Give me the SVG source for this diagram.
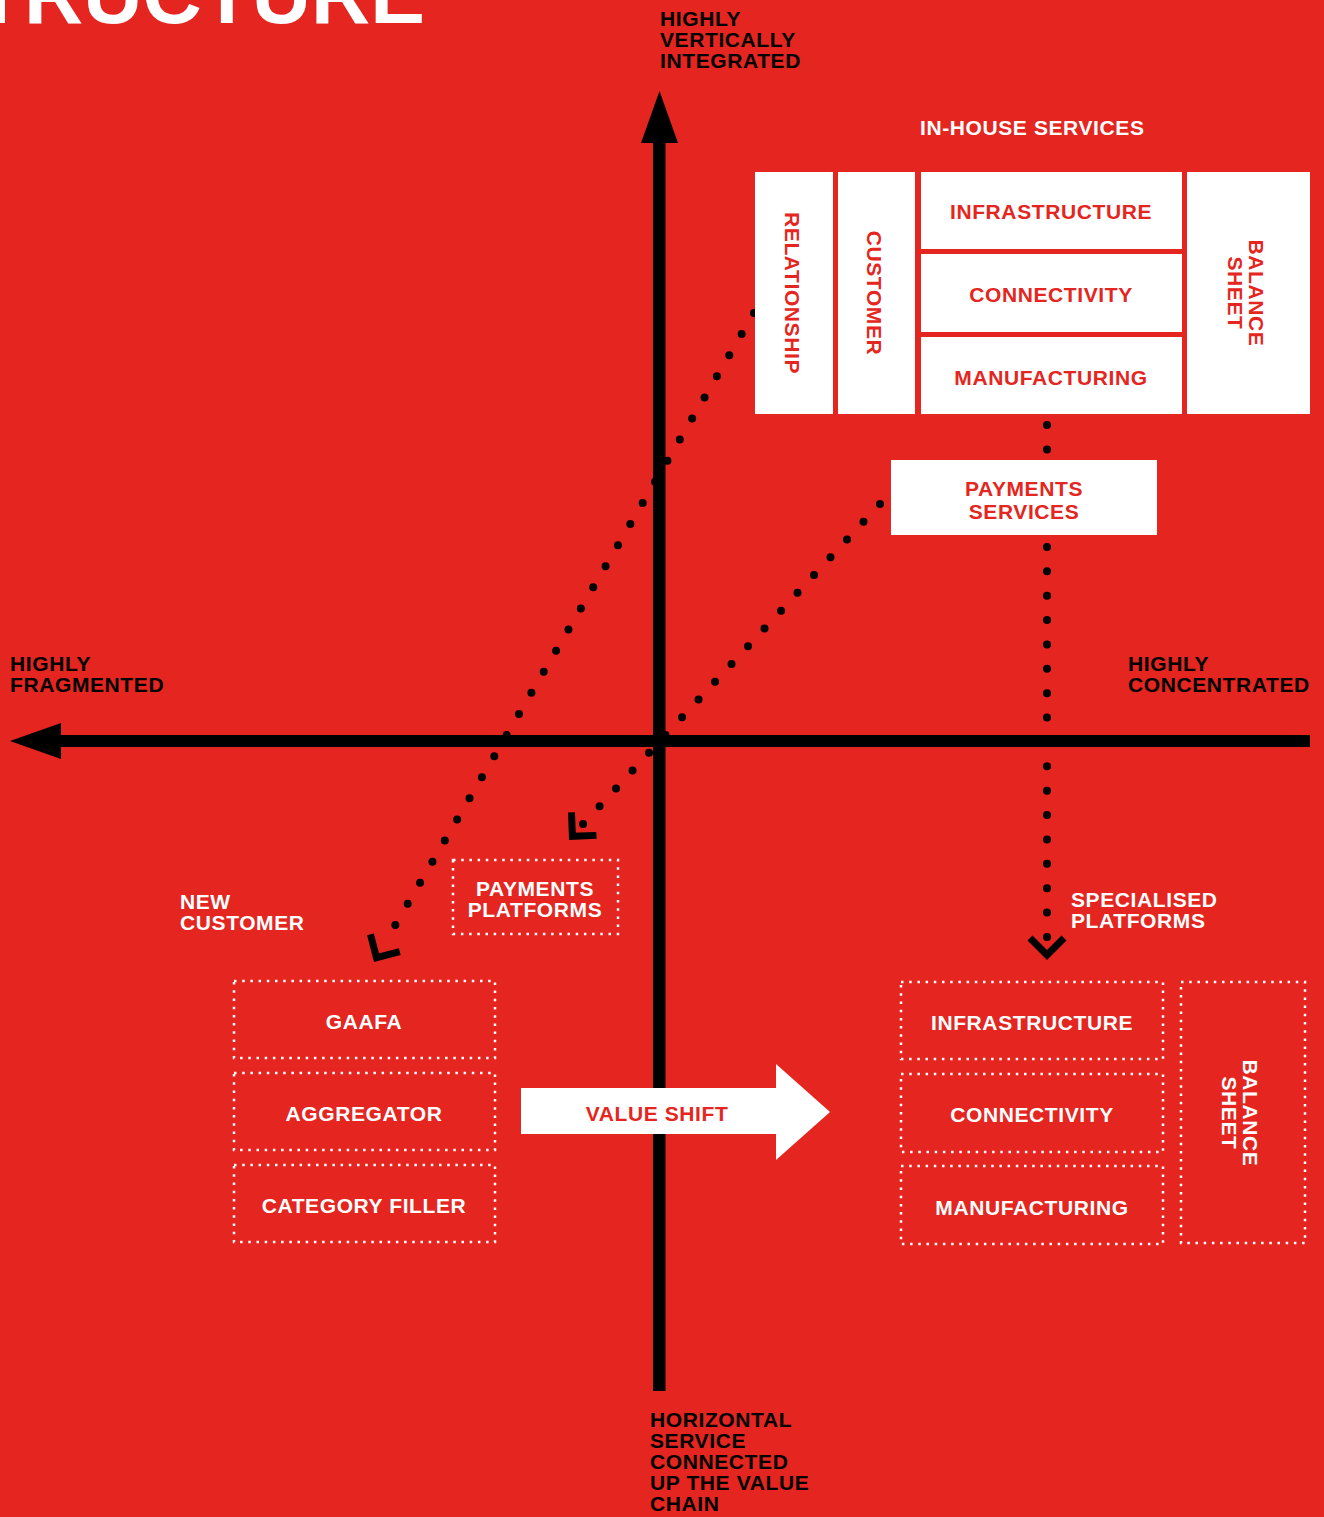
<svg xmlns="http://www.w3.org/2000/svg" width="1324" height="1517" viewBox="0 0 1324 1517">
<style>
.t{font-family:"Liberation Sans",Arial,sans-serif;font-weight:700;font-size:21px;letter-spacing:0.6px}
.k{fill:#000}
.w{fill:#fff}
.r{fill:#E42520}
.m{text-anchor:middle}
.box{fill:#fff}
.dbox{fill:none;stroke:#fff;stroke-width:2.5;stroke-dasharray:2.5 5.7}
.dots{fill:none;stroke:#000;stroke-width:8;stroke-linecap:round}
</style>
<defs>
<path id="chev" d="M-17,-17 L0,0 L17,-17" fill="none" stroke="#000" stroke-width="7" stroke-linejoin="miter"/>
</defs>
<rect width="1324" height="1517" fill="#E42520"/>
<text id="title" x="425" y="23" text-anchor="end" style="font-family:'Liberation Sans',Arial,sans-serif;font-weight:700;font-size:82px" class="w">TRUCTURE</text>

<g id="axes">
<rect x="653" y="140" width="12.5" height="1251" class="k"/>
<polygon points="659.5,91 641,143 678,143" class="k"/>
<rect x="58" y="735" width="1252" height="12" class="k"/>
<polygon points="10,741 61,723 61,759" class="k"/>
</g>

<g id="connectors">
<line class="dots" x1="754" y1="313" x2="383" y2="946" stroke-dasharray="0 24.46"/>
<use href="#chev" transform="translate(376.5,957.7) rotate(30.4)"/>
<line class="dots" x1="880" y1="504" x2="583" y2="824" stroke-dasharray="0 24.25"/>
<use href="#chev" transform="translate(572.4,836.3) rotate(42.8)"/>
<line class="dots" x1="1047" y1="425" x2="1047" y2="937" stroke-dasharray="0 24.38"/>
<use href="#chev" transform="translate(1047,955)"/>
</g>

<g id="axis-labels" class="t k">
<text x="660" y="26">HIGHLY</text>
<text x="660" y="47">VERTICALLY</text>
<text x="660" y="68">INTEGRATED</text>
<text x="10" y="671">HIGHLY</text>
<text x="10" y="692">FRAGMENTED</text>
<text x="1128" y="671">HIGHLY</text>
<text x="1128" y="692">CONCENTRATED</text>
<text x="650" y="1427">HORIZONTAL</text>
<text x="650" y="1448">SERVICE</text>
<text x="650" y="1469">CONNECTED</text>
<text x="650" y="1490">UP THE VALUE</text>
<text x="650" y="1511">CHAIN</text>
</g>

<g id="inhouse-label"><text class="t w" x="920" y="135">IN-HOUSE SERVICES</text></g>

<g id="relationship">
<rect class="box" x="755" y="172" width="78" height="242"/>
<text class="t r m" transform="translate(785,293) rotate(90)">RELATIONSHIP</text>
</g>
<g id="customer">
<rect class="box" x="838" y="172" width="77" height="242"/>
<text class="t r m" transform="translate(867,293) rotate(90)">CUSTOMER</text>
</g>
<g id="infrastructure-top">
<rect class="box" x="921" y="172" width="261" height="77"/>
<text class="t r m" x="1051" y="219">INFRASTRUCTURE</text>
</g>
<g id="connectivity-top">
<rect class="box" x="921" y="254" width="261" height="78"/>
<text class="t r m" x="1051" y="302">CONNECTIVITY</text>
</g>
<g id="manufacturing-top">
<rect class="box" x="921" y="337" width="261" height="77"/>
<text class="t r m" x="1051" y="385">MANUFACTURING</text>
</g>
<g id="balance-top">
<rect class="box" x="1187" y="172" width="123" height="242"/>
<text class="t r m" transform="translate(1249,293) rotate(90)"><tspan x="0" y="0">BALANCE</tspan><tspan x="0" y="21">SHEET</tspan></text>
</g>

<g id="payments-services">
<rect class="box" x="891" y="460" width="266" height="75"/>
<text class="t r m" x="1024" y="496">PAYMENTS</text>
<text class="t r m" x="1024" y="519">SERVICES</text>
</g>

<g id="payments-platforms">
<rect class="dbox" x="453" y="860" width="165" height="74"/>
<text class="t w m" x="535" y="896">PAYMENTS</text>
<text class="t w m" x="535" y="917">PLATFORMS</text>
</g>

<g id="new-customer-label" class="t w">
<text x="180" y="909">NEW</text>
<text x="180" y="930">CUSTOMER</text>
</g>
<g id="specialised-label" class="t w">
<text x="1071" y="907">SPECIALISED</text>
<text x="1071" y="928">PLATFORMS</text>
</g>

<g id="gaafa">
<rect class="dbox" x="234" y="981" width="261" height="77"/>
<text class="t w m" x="364" y="1029">GAAFA</text>
</g>
<g id="aggregator">
<rect class="dbox" x="234" y="1073" width="261" height="77"/>
<text class="t w m" x="364" y="1121">AGGREGATOR</text>
</g>
<g id="category-filler">
<rect class="dbox" x="234" y="1165" width="261" height="77"/>
<text class="t w m" x="364" y="1213">CATEGORY FILLER</text>
</g>

<g id="infrastructure-bottom">
<rect class="dbox" x="901" y="982" width="262" height="77"/>
<text class="t w m" x="1032" y="1030">INFRASTRUCTURE</text>
</g>
<g id="connectivity-bottom">
<rect class="dbox" x="901" y="1074" width="262" height="78"/>
<text class="t w m" x="1032" y="1122">CONNECTIVITY</text>
</g>
<g id="manufacturing-bottom">
<rect class="dbox" x="901" y="1166" width="262" height="78"/>
<text class="t w m" x="1032" y="1215">MANUFACTURING</text>
</g>
<g id="balance-bottom">
<rect class="dbox" x="1181" y="982" width="124" height="261"/>
<text class="t w m" transform="translate(1243,1113) rotate(90)"><tspan x="0" y="0">BALANCE</tspan><tspan x="0" y="21">SHEET</tspan></text>
</g>

<g id="value-shift">
<polygon class="box" points="521,1088 776,1088 776,1064 830,1112 776,1160 776,1134 521,1134"/>
<text class="t r m" x="657" y="1121">VALUE SHIFT</text>
</g>
</svg>
